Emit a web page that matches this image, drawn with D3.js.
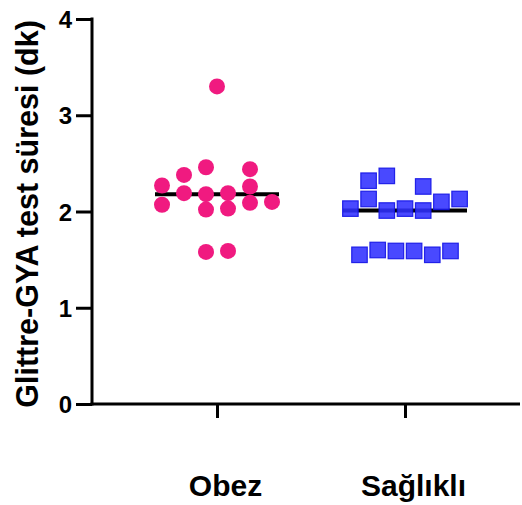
<!DOCTYPE html>
<html>
<head>
<meta charset="utf-8">
<script src="https://cdn.jsdelivr.net/npm/d3@7"></script>
<style>
  html, body { margin: 0; padding: 0; background: #fff; }
  svg { display: block; }
  text { font-family: "Liberation Sans", Arial, sans-serif; font-weight: bold; fill: #000; }
</style>
</head>
<body>
<svg id="chart" width="522" height="505"></svg>
<script>
// ---- data ----
const categories = ["Obez", "Sağlıklı"];
const yTicks = [0, 1, 2, 3, 4];
const yTitle = "Glittre-GYA test süresi (dk)";

const obezValues = [3.30, 2.27, 2.07, 2.38, 2.19, 2.46, 2.18, 2.02, 2.19, 2.03, 2.44, 2.26, 2.09, 2.10, 1.58, 1.59];
const obezSlot   = [0, -2.5, -2.5, -1.5, -1.5, -0.5, -0.5, -0.5, 0.5, 0.5, 1.5, 1.5, 1.5, 2.5, -0.5, 0.5];

const saglikliValues = [2.03, 2.32, 2.13, 2.37, 2.01, 2.03, 2.26, 2.01, 2.10, 2.13, 1.55, 1.60, 1.59, 1.59, 1.55, 1.59];
const saglikliSlot   = [-3, -2, -2, -1, -1, 0, 1, 1, 2, 3, -2.5, -1.5, -0.5, 0.5, 1.5, 2.5];

const groupMeans = [2.18, 2.01];

// ---- layout ----
const svg = d3.select("#chart");
const axisX = 92, axisBottomY = 404, axisTopY = 19, rightEdge = 520;

const y = d3.scaleLinear().domain([0, 4]).range([axisBottomY, axisTopY]);
const x = d3.scalePoint().domain(categories).range([217, 405]);

// Y axis
const gy = svg.append("g").attr("transform", `translate(${axisX},0)`)
  .call(d3.axisLeft(y).tickValues(yTicks).tickFormat(d3.format("d")).tickSize(16).tickSizeOuter(0).tickPadding(4));
gy.select(".domain").remove();
gy.selectAll(".tick line").attr("stroke", "#000").attr("stroke-width", 3);
gy.selectAll(".tick text").style("font-size", "24px").attr("font-family", null).attr("dy", "0.36em");
gy.append("line").attr("x1", 0).attr("x2", 0).attr("y1", axisTopY - 1.5).attr("y2", axisBottomY + 1.5)
  .attr("stroke", "#000").attr("stroke-width", 3);

// X axis
const gx = svg.append("g").attr("transform", `translate(0,${axisBottomY})`)
  .call(d3.axisBottom(x).tickSize(14).tickSizeOuter(0).tickPadding(0));
gx.select(".domain").remove();
gx.selectAll(".tick line").attr("stroke", "#000").attr("stroke-width", 3);
gx.selectAll(".tick text").style("font-size", "30px").attr("font-family", null)
  .attr("y", 92).attr("dy", 0).attr("dx", 8);
gx.append("line").attr("x1", axisX - 1.5).attr("x2", rightEdge).attr("y1", 0).attr("y2", 0)
  .attr("stroke", "#000").attr("stroke-width", 3);

// Y title
svg.append("text")
  .attr("transform", `translate(38,214) rotate(-90)`)
  .attr("text-anchor", "middle")
  .style("font-size", "30.5px")
  .text(yTitle);

// mean lines
const meanHalf = 62;
svg.selectAll(".mean").data(categories).join("line")
  .attr("class", "mean")
  .attr("x1", d => x(d) - meanHalf).attr("x2", d => x(d) + meanHalf)
  .attr("y1", (d, i) => y(groupMeans[i])).attr("y2", (d, i) => y(groupMeans[i]))
  .attr("stroke", "#000").attr("stroke-width", 4);

// Obez circles
const obez = obezValues.map((v, i) => ({ v, s: obezSlot[i] }));
svg.selectAll(".obez").data(obez).join("circle")
  .attr("class", "obez")
  .attr("cx", d => x("Obez") + d.s * 22)
  .attr("cy", d => y(d.v))
  .attr("r", 8)
  .attr("fill", "#f01a80");

// Sağlıklı squares
const side = 15.5;
const sag = saglikliValues.map((v, i) => ({ v, s: saglikliSlot[i] }));
svg.selectAll(".sag").data(sag).join("rect")
  .attr("class", "sag")
  .attr("x", d => x("Sağlıklı") + d.s * 18.2 - side / 2)
  .attr("y", d => y(d.v) - side / 2)
  .attr("width", side).attr("height", side)
  .attr("fill", "#3030ff").attr("fill-opacity", 0.88)
  .attr("stroke", "#1414e6").attr("stroke-width", 1.2).attr("stroke-opacity", 0.9);
</script>
</body>
</html>
